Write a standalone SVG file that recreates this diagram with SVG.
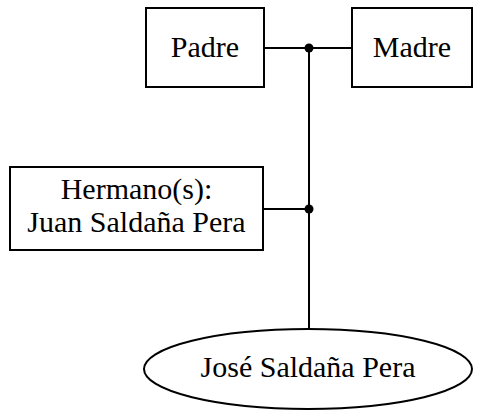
<svg xmlns="http://www.w3.org/2000/svg" width="480" height="418" viewBox="0 0 480 418">
<style>
.n{fill:#fff;stroke:#000;stroke-width:2}
.t{font-family:"Liberation Serif","Times New Roman",serif;font-size:30px;fill:#000;text-anchor:middle}
.e{stroke:#000;stroke-width:2;fill:none}
</style>
<rect width="480" height="418" fill="#fff"/>
<g id="edges">
<line class="e" x1="264" y1="48" x2="352" y2="48"/>
<line class="e" x1="263" y1="209" x2="309" y2="209"/>
<line class="e" x1="309" y1="48" x2="309" y2="329"/>
<circle cx="309" cy="48" r="4.5" fill="#000"/>
<circle cx="309" cy="209" r="4.5" fill="#000"/>
</g>
<g id="padre"><rect class="n" x="146" y="8" width="118" height="79"/><text class="t" x="205" y="57">Padre</text></g>
<g id="madre"><rect class="n" x="352" y="8" width="120" height="79"/><text class="t" x="412" y="57">Madre</text></g>
<g id="hermano"><rect class="n" x="10" y="167" width="253" height="83"/><text class="t" x="136.5" y="199">Hermano(s):</text><text class="t" x="136.5" y="232">Juan Saldaña Pera</text></g>
<g id="jose"><ellipse class="n" cx="308" cy="369" rx="164" ry="40"/><text class="t" x="308" y="377">José Saldaña Pera</text></g>
</svg>
